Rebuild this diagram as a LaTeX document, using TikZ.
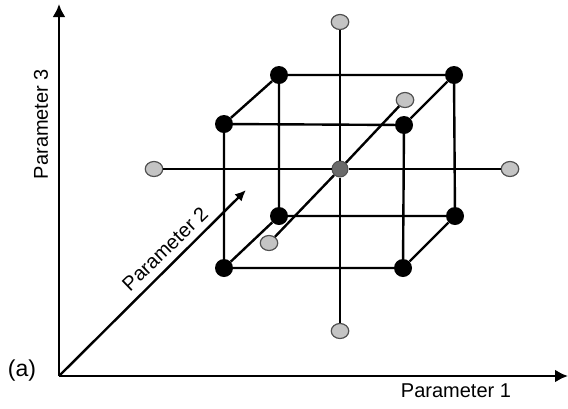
\documentclass[tikz,border=0pt]{standalone}
\usepackage{fontspec}
\setmainfont{Liberation Sans}
\usetikzlibrary{arrows.meta,shapes.geometric}
\definecolor{dotgray}{HTML}{C4C4C4}
\definecolor{ringgray}{HTML}{505050}
\definecolor{midgray}{HTML}{6A6A6A}
\begin{document}
\begin{tikzpicture}[x=1pt,y=-1pt,
  blackdot/.style={circle,fill=black,inner sep=0pt,minimum size=18pt},
  graydot/.style={ellipse,fill=dotgray,draw=ringgray,line width=1.2pt,inner sep=0pt,minimum width=17.5pt,minimum height=15pt},
  centerdot/.style={circle,fill=midgray,draw=ringgray,line width=1pt,inner sep=0pt,minimum size=16pt},
  edge/.style={line width=2.4pt,black},
  axis/.style={line width=2.8pt,black,-{Latex[length=13pt,width=13pt]}},
  lab/.style={font=\fontsize{20}{24}\selectfont,inner sep=0pt}]
\useasboundingbox (0,0) rectangle (568,408);
% dots
\node[blackdot] (ftl) at (224,124) {};
\node[blackdot] (ftr) at (404,125) {};
\node[blackdot] (fbl) at (224,268) {};
\node[blackdot] (fbr) at (403,268) {};
\node[blackdot] (btl) at (279,75) {};
\node[blackdot] (btr) at (454,75) {};
\node[blackdot] (bbl) at (279,216) {};
\node[blackdot] (bbr) at (455,216) {};
\node[centerdot] (c) at (340,169) {};
\node[graydot] (gt) at (340,22) {};
\node[graydot] (gb) at (340,331) {};
\node[graydot] (gl) at (154,169) {};
\node[graydot] (gr) at (510,169) {};
\node[graydot] (gu) at (405,100) {};
\node[graydot] (gd) at (269,243) {};
% cube
\draw[edge] (ftl) -- (ftr) -- (fbr) -- (fbl) -- (ftl);
\draw[edge] (btl) -- (btr) -- (bbr) -- (bbl) -- (btl);
\draw[edge] (ftl) -- (btl);
\draw[edge] (ftr) -- (btr);
\draw[edge] (fbl) -- (bbl);
\draw[edge] (fbr) -- (bbr);
% star lines
\draw[edge] (gt) -- (c) -- (gb);
\draw[edge] (gl) -- (c) -- (gr);
\draw[edge] (gd) -- (c) -- (gu);
% axes
\coordinate (O) at (59,376);
\coordinate (Y) at (59,4);
\coordinate (X) at (568,376);
\coordinate (Z) at (246,190);
\draw[axis] (O) -- (Y);
\draw[axis] (O) -- (X);
\draw[line width=2.4pt,-{Latex[length=11pt,width=10pt]}] (O) -- (Z);
% labels
\node[lab,rotate=90] (p3) at (41,124) {Parameter 3};
\node[lab] (p1) at (456,391) {Parameter 1};
\node[lab,rotate=44] (p2) at (165,249) {Parameter 2};
\node[lab,font=\fontsize{23}{27}\selectfont] (a) at (22,371) {(a)};
\end{tikzpicture}
\end{document}
